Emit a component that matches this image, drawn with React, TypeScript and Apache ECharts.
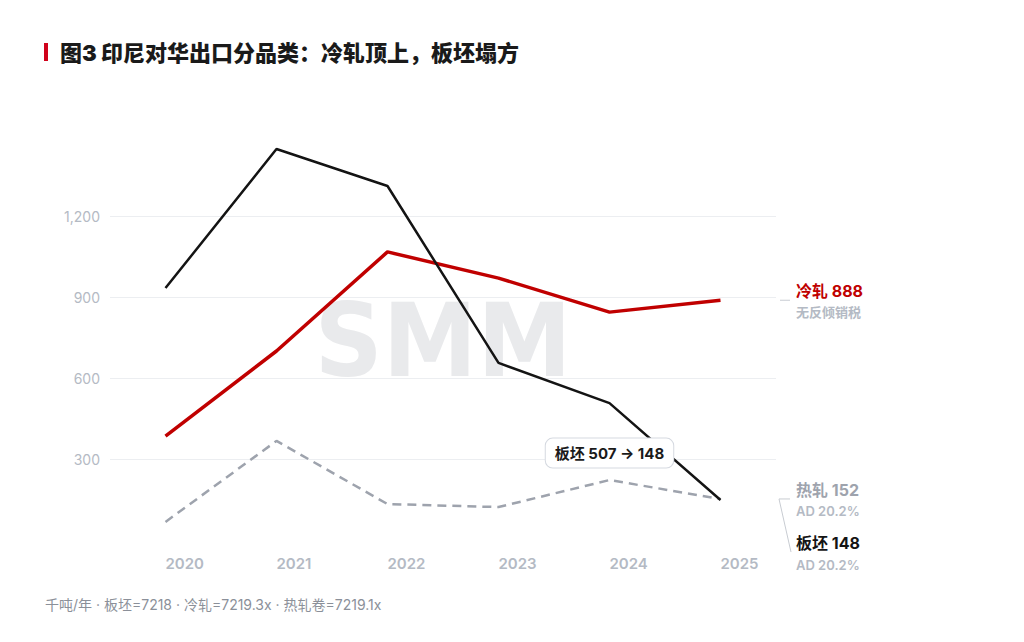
import React, { useEffect, useRef } from "react";
import * as echarts from "echarts";

const years = ["2020", "2021", "2022", "2023", "2024", "2025"];
const slabValues = [933, 1448, 1311, 656, 507, 148];
const coldRolledValues = [385, 700, 1067, 970, 844, 888];
const hotRolledValues = [67, 367, 133, 122, 222, 152];
const yMin = 0;
const yMax = 1500;
const yStep = 300;

const titleText = "图3 印尼对华出口分品类：冷轧顶上，板坯塌方";
const footText = "千吨/年 · 板坯=7218 · 冷轧=7219.3x · 热轧卷=7219.1x";
const calloutText = "板坯 507 → 148";

const FONT = "Inter, 'Noto Sans CJK SC', sans-serif";
const RED = "#c00000";
const BLACK = "#141414";
const GRAY = "#9ea3ad";
const LIGHT = "#b4bac4";

export default function App() {
  const ref = useRef<HTMLDivElement>(null);
  useEffect(() => {
    if (!ref.current) return;
    const chart = echarts.init(ref.current, null, { renderer: "svg" });
    const base: any = {
      animation: false,
      backgroundColor: "#ffffff",
      textStyle: { fontFamily: FONT },
      grid: { left: 110, right: 248, top: 135, bottom: 102 },
      xAxis: {
        type: "category",
        data: years,
        boundaryGap: true,
        axisLine: { show: false },
        axisTick: { show: false },
        axisLabel: {
          align: "left",
          margin: 16,
          color: LIGHT,
          fontSize: 15,
          fontWeight: 600,
          fontFamily: FONT,
        },
      },
      yAxis: {
        type: "value",
        min: yMin,
        max: yMax,
        interval: yStep,
        axisLine: { show: false },
        axisTick: { show: false },
        axisLabel: {
          showMinLabel: false,
          showMaxLabel: false,
          margin: 10,
          color: LIGHT,
          fontSize: 14,
          fontFamily: FONT,
          formatter: (v: number) => v.toLocaleString("en-US"),
        },
        splitLine: {
          showMinLine: false,
          showMaxLine: false,
          lineStyle: { color: "#eceef1", width: 1 },
        },
      },
      series: [
        {
          name: "热轧",
          type: "line",
          data: hotRolledValues,
          symbol: "none",
          z: 2,
          lineStyle: { color: GRAY, width: 2.5, type: [9, 6] },
        },
        {
          name: "冷轧",
          type: "line",
          data: coldRolledValues,
          symbol: "none",
          z: 3,
          lineStyle: { color: RED, width: 3.5 },
        },
        {
          name: "板坯",
          type: "line",
          data: slabValues,
          symbol: "none",
          z: 4,
          lineStyle: { color: BLACK, width: 2.5 },
          markPoint: {
            symbol: "circle",
            symbolSize: 0,
            z: 10,
            data: [
              {
                coord: [years[4], slabValues[4]],
                label: {
                  show: true,
                  formatter: calloutText,
                  offset: [0, 50],
                  color: "#1a1a1a",
                  fontSize: 15,
                  fontWeight: "bold",
                  fontFamily: FONT,
                  backgroundColor: "#ffffff",
                  borderColor: "#d5d9e0",
                  borderWidth: 1,
                  borderRadius: 7,
                  padding: [7, 9],
                },
              },
            ],
          },
        },
      ],
    };
    chart.setOption(base);

    const last = years.length - 1;
    const pCold = chart.convertToPixel({ gridIndex: 0 }, [last, coldRolledValues[last]]) as number[];
    const pHot = chart.convertToPixel({ gridIndex: 0 }, [last, hotRolledValues[last]]) as number[];
    const pSlab = chart.convertToPixel({ gridIndex: 0 }, [last, slabValues[last]]) as number[];
    const labelX = 796;

    const graphic: any[] = [
      {
        type: "text",
        x: 443,
        y: 341,
        z: -10,
        scaleX: 0.93,
        silent: true,
        style: {
          text: "SMM",
          align: "center",
          verticalAlign: "middle",
          fontSize: 102,
          fontWeight: "bold",
          fontFamily: "'DejaVu Sans', sans-serif",
          fill: "#e9eaec",
        },
      },
      {
        type: "rect",
        shape: { x: 44, y: 43, width: 4, height: 18 },
        style: { fill: "#d0021b" },
      },
      {
        type: "text",
        x: 60,
        y: 53,
        style: {
          text: titleText,
          verticalAlign: "middle",
          fontSize: 22,
          fontWeight: 900,
          fontFamily: FONT,
          fill: "#1a1a1a",
        },
      },
      {
        type: "text",
        x: 45,
        y: 604,
        style: {
          text: footText,
          verticalAlign: "middle",
          fontSize: 14,
          fontFamily: FONT,
          fill: "#8b9099",
        },
      },
      {
        type: "line",
        shape: { x1: 780, y1: pCold[1], x2: 790, y2: pCold[1] },
        style: { stroke: "#c8ccd2", lineWidth: 1 },
      },
      {
        type: "polyline",
        shape: { points: [[790, pHot[1]], [779, pHot[1]], [791, pSlab[1] + 52]] },
        style: { stroke: "#c8ccd2", lineWidth: 1, fill: null },
      },
      {
        type: "text",
        x: labelX,
        y: pCold[1] - 9,
        style: {
          text: `冷轧 ${coldRolledValues[last]}`,
          verticalAlign: "middle",
          fontSize: 16,
          fontWeight: "bold",
          fontFamily: FONT,
          fill: RED,
        },
      },
      {
        type: "text",
        x: labelX,
        y: pCold[1] + 12,
        style: {
          text: "无反倾销税",
          verticalAlign: "middle",
          fontSize: 13,
          fontWeight: 600,
          fontFamily: FONT,
          fill: LIGHT,
        },
      },
      {
        type: "text",
        x: labelX,
        y: pHot[1] - 9,
        style: {
          text: `热轧 ${hotRolledValues[last]}`,
          verticalAlign: "middle",
          fontSize: 16,
          fontWeight: "bold",
          fontFamily: FONT,
          fill: GRAY,
        },
      },
      {
        type: "text",
        x: labelX,
        y: pHot[1] + 12,
        style: {
          text: "AD 20.2%",
          verticalAlign: "middle",
          fontSize: 13,
          fontWeight: 600,
          fontFamily: FONT,
          fill: LIGHT,
        },
      },
      {
        type: "text",
        x: labelX,
        y: pSlab[1] + 43,
        style: {
          text: `板坯 ${slabValues[last]}`,
          verticalAlign: "middle",
          fontSize: 16,
          fontWeight: "bold",
          fontFamily: FONT,
          fill: BLACK,
        },
      },
      {
        type: "text",
        x: labelX,
        y: pSlab[1] + 65,
        style: {
          text: "AD 20.2%",
          verticalAlign: "middle",
          fontSize: 13,
          fontWeight: 600,
          fontFamily: FONT,
          fill: LIGHT,
        },
      },
    ];
    chart.setOption({ graphic });

    return () => chart.dispose();
  }, []);

  return (
    <div
      ref={ref}
      style={{ width: 1024, height: 642, position: "absolute", left: 0, top: 0 }}
    />
  );
}
